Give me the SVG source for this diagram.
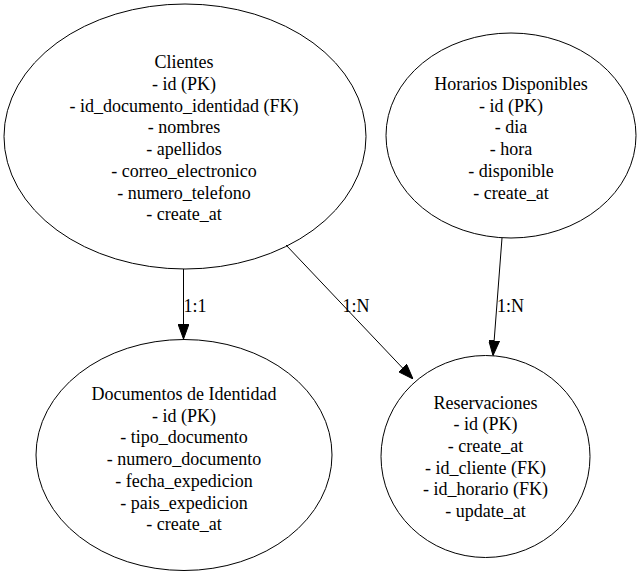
<svg xmlns="http://www.w3.org/2000/svg" width="640" height="578" viewBox="0 0 640 578">
<style>
.bg{fill:#ffffff}
.node ellipse{fill:none;stroke:#000000;stroke-width:1}
text{font-family:"Liberation Serif","Times New Roman",serif;font-size:18px;fill:#000000}
.node text{text-anchor:middle}
.edge line{stroke:#000000;stroke-width:1;fill:none}
</style>
<defs>
<marker id="arrow" markerUnits="userSpaceOnUse" markerWidth="15" markerHeight="11" refX="15" refY="5.5" orient="auto">
<path d="M0,0 L15,5.5 L0,11 Z" fill="#000000" stroke="#000000" stroke-width="1"/>
</marker>
</defs>
<rect class="bg" x="0" y="0" width="640" height="578"/>
<g id="connectors" class="edge">
<g id="edge-clientes-documentos">
<line x1="183.5" y1="269" x2="183.5" y2="339" marker-end="url(#arrow)"/>
<text x="183.5" y="311.5">1:1</text>
</g>
<g id="edge-clientes-reservaciones">
<line x1="286" y1="245" x2="413" y2="379" marker-end="url(#arrow)"/>
<text x="342.5" y="311.5">1:N</text>
</g>
<g id="edge-horarios-reservaciones">
<line x1="502" y1="238" x2="493" y2="355.5" marker-end="url(#arrow)"/>
<text x="497" y="311.5">1:N</text>
</g>
</g>
<g id="node-clientes" class="node">
<ellipse cx="185" cy="136.5" rx="181" ry="132.5"/>
<text x="184" y="68.3">Clientes</text>
<text x="184" y="90">- id (PK)</text>
<text x="184" y="111.7">- id_documento_identidad (FK)</text>
<text x="184" y="133.4">- nombres</text>
<text x="184" y="155.1">- apellidos</text>
<text x="184" y="176.8">- correo_electronico</text>
<text x="184" y="198.5">- numero_telefono</text>
<text x="184" y="220.2">- create_at</text>
</g>
<g id="node-horarios" class="node">
<ellipse cx="511" cy="135.5" rx="125" ry="102.5"/>
<text x="511" y="90">Horarios Disponibles</text>
<text x="511" y="111.7">- id (PK)</text>
<text x="511" y="133.4">- dia</text>
<text x="511" y="155.1">- hora</text>
<text x="511" y="176.8">- disponible</text>
<text x="511" y="198.5">- create_at</text>
</g>
<g id="node-documentos" class="node">
<ellipse cx="184" cy="455" rx="148" ry="115.5"/>
<text x="184" y="400">Documentos de Identidad</text>
<text x="184" y="421.7">- id (PK)</text>
<text x="184" y="443.4">- tipo_documento</text>
<text x="184" y="465.1">- numero_documento</text>
<text x="184" y="486.8">- fecha_expedicion</text>
<text x="184" y="508.5">- pais_expedicion</text>
<text x="184" y="530.2">- create_at</text>
</g>
<g id="node-reservaciones" class="node">
<ellipse cx="485.5" cy="456.5" rx="104.5" ry="101"/>
<text x="485.5" y="408.5">Reservaciones</text>
<text x="485.5" y="430.2">- id (PK)</text>
<text x="485.5" y="451.9">- create_at</text>
<text x="485.5" y="473.6">- id_cliente (FK)</text>
<text x="485.5" y="495.3">- id_horario (FK)</text>
<text x="485.5" y="517">- update_at</text>
</g>
</svg>
